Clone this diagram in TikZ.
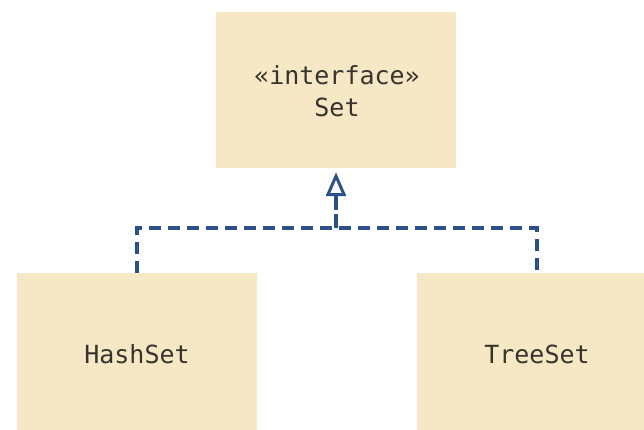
\documentclass[tikz,border=0pt]{standalone}
\usepackage{fontspec}
\newfontfamily\umlfont{DejaVu Sans Mono}
\usetikzlibrary{arrows.meta}
\definecolor{boxfill}{RGB}{246,231,197}
\definecolor{lineblue}{RGB}{44,80,140}
\definecolor{txt}{RGB}{55,52,46}
\begin{document}
\begin{tikzpicture}[x=1pt,y=-1pt,
  classbox/.style={fill=boxfill,draw=none,minimum width=240pt,inner sep=0pt,
    font=\umlfont\fontsize{25}{32}\selectfont,text=txt,align=center},
  dep/.style={draw=lineblue,line width=3.2pt,dash pattern=on 12pt off 7pt}]
\useasboundingbox (0,0) rectangle (644,430);
\clip (0,0) rectangle (644,430);
\fill[white] (0,0) rectangle (644,430);
\node[classbox,minimum height=156pt] (set) at (336,90) {};
\node[font=\umlfont\fontsize{25}{32}\selectfont,text=txt,align=center,inner sep=0pt,anchor=base] (setlabel) at (337,117) {«interface»\\Set};
\node[classbox,minimum height=162pt] (hash) at (137,354) {HashSet};
\node[classbox,minimum height=162pt] (tree) at (537,354) {TreeSet};
\coordinate (bar) at (336,228);
\draw[dep] (hash.north) -- (hash.north |- bar) -- (tree.north |- bar) -- (tree.north);
\draw[dep,-{Triangle[open,length=24pt,width=20pt,line width=3pt]},shorten >=4pt,dash pattern=on 14pt off 4pt] (bar) -- (set.south);
\end{tikzpicture}
\end{document}
